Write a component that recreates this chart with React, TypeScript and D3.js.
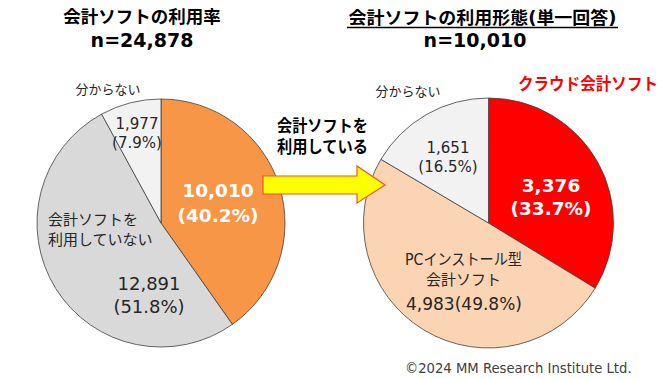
import React from "react";
import * as d3 from "d3";

const leftCategories = ["会計ソフトを利用している", "会計ソフトを利用していない", "分からない"];
const leftValues = [10010, 12891, 1977];
const leftPct = ["40.2%", "51.8%", "7.9%"];
const leftColors = ["#F79646", "#D9D9D9", "#F2F2F2"];

const rightCategories = ["クラウド会計ソフト", "PCインストール型会計ソフト", "分からない"];
const rightValues = [3376, 4983, 1651];
const rightPct = ["33.7%", "49.8%", "16.5%"];
const rightColors = ["#FF0000", "#FBD4B4", "#F2F2F2"];

const FONT = "'DejaVu Sans', 'Noto Sans CJK JP', sans-serif";
const fmt = d3.format(",");

function Pie({ values, colors, cx, cy, r }: { values: number[]; colors: string[]; cx: number; cy: number; r: number }) {
  const arcs = d3.pie<number>().sort(null).value((d) => d)(values);
  const arc = d3.arc<d3.PieArcDatum<number>>().innerRadius(0).outerRadius(r);
  return (
    <g transform={`translate(${cx},${cy})`}>
      {arcs.map((a, i) => (
        <path key={i} d={arc(a) || ""} fill={colors[i]} stroke="#404040" strokeWidth={0.8} />
      ))}
    </g>
  );
}

export default function App() {
  const txt = "#262626";
  return (
    <div style={{ position: "absolute", left: 0, top: 0 }}>
      <svg width={665} height={379} style={{ display: "block", fontFamily: FONT }}>
        <rect width={665} height={379} fill="#fff" />
        {/* titles */}
        <text x={142} y={23} textAnchor="middle" fontSize={17.5} fontWeight="bold" fill="#000">会計ソフトの利用率</text>
        <text x={142} y={47} textAnchor="middle" fontSize={19} fontWeight="bold" fill="#000">n=24,878</text>
        <text x={482.5} y={24} textAnchor="middle" fontSize={17.5} fontWeight="bold" fill="#000" textLength={268} lengthAdjust="spacingAndGlyphs">会計ソフトの利用形態(単一回答)</text>
        <line x1={347} x2={618} y1={27.5} y2={27.5} stroke="#000" strokeWidth={1.5} />
        <text x={475} y={47} textAnchor="middle" fontSize={19} fontWeight="bold" fill="#000">n=10,010</text>

        <Pie values={leftValues} colors={leftColors} cx={161} cy={223} r={124} />
        <Pie values={rightValues} colors={rightColors} cx={488.5} cy={223} r={125} />

        {/* left labels */}
        <text x={108} y={94} textAnchor="middle" fontSize={13} fill={txt}>{leftCategories[2]}</text>
        <text x={137} y={129} textAnchor="middle" fontSize={15} fill={txt}>{fmt(leftValues[2])}</text>
        <text x={137} y={148} textAnchor="middle" fontSize={15} fill={txt}>({leftPct[2]})</text>
        <text x={218} y={197} textAnchor="middle" fontSize={18.5} fontWeight="bold" fill="#fff">{fmt(leftValues[0])}</text>
        <text x={218} y={222} textAnchor="middle" fontSize={18.5} fontWeight="bold" fill="#fff">({leftPct[0]})</text>
        <text x={48} y={225} fontSize={15} fill={txt}>会計ソフトを</text>
        <text x={48} y={245} fontSize={15} fill={txt}>利用していない</text>
        <text x={149} y={290} textAnchor="middle" fontSize={18} fill={txt}>{fmt(leftValues[1])}</text>
        <text x={149} y={313} textAnchor="middle" fontSize={18} fill={txt}>({leftPct[1]})</text>

        {/* arrow */}
        <text x={277} y={132} fontSize={16.5} fontWeight="bold" fill="#000" textLength={91} lengthAdjust="spacingAndGlyphs">会計ソフトを</text>
        <text x={277} y={153} fontSize={16.5} fontWeight="bold" fill="#000" textLength={91} lengthAdjust="spacingAndGlyphs">利用している</text>
        <path d="M263,176 L357,176 L357,166 L385,185 L357,203 L357,194 L263,194 Z" fill="#FFFF00" stroke="#F4512C" strokeWidth={1.2} />

        {/* right labels */}
        <text x={408} y={96} textAnchor="middle" fontSize={13} fill={txt}>{rightCategories[2]}</text>
        <text x={518} y={90} fontSize={16.5} fontWeight="bold" fill="#FF0000" textLength={140} lengthAdjust="spacingAndGlyphs">{rightCategories[0]}</text>
        <text x={448} y={153} textAnchor="middle" fontSize={15} fill={txt}>{fmt(rightValues[2])}</text>
        <text x={448} y={172} textAnchor="middle" fontSize={15} fill={txt}>({rightPct[2]})</text>
        <text x={551} y={192} textAnchor="middle" fontSize={18.5} fontWeight="bold" fill="#fff">{fmt(rightValues[0])}</text>
        <text x={551} y={215} textAnchor="middle" fontSize={18.5} fontWeight="bold" fill="#fff">({rightPct[0]})</text>
        <text x={463.5} y={265} textAnchor="middle" fontSize={15.5} fill={txt} textLength={117} lengthAdjust="spacingAndGlyphs">PCインストール型</text>
        <text x={463.5} y={285} textAnchor="middle" fontSize={15} fill={txt}>会計ソフト</text>
        <text x={464} y={310} textAnchor="middle" fontSize={17} fill={txt}>{fmt(rightValues[1])}({rightPct[1]})</text>

        <text x={405} y={373} fontSize={13.2} fill="#404040">©2024 MM Research Institute Ltd.</text>
      </svg>
    </div>
  );
}
